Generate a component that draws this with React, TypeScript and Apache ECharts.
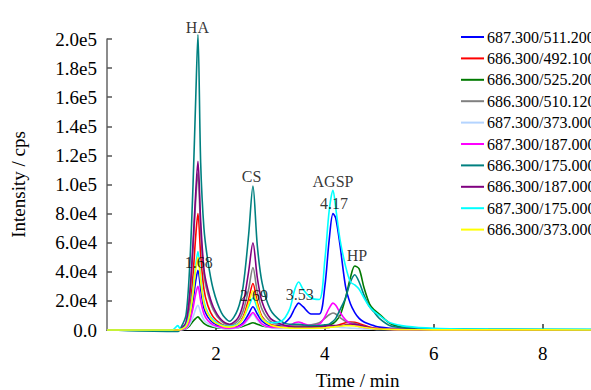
import React, { useEffect, useRef } from "react";
import * as echarts from "echarts";

// retention time grid (min)
const times = [0, 1.2, 1.3, 1.35, 1.45, 1.52, 1.58, 1.63, 1.67, 1.72, 1.78, 1.85, 1.95, 2.1, 2.25, 2.4, 2.5, 2.6, 2.68, 2.76, 2.85, 3.0, 3.2, 3.35, 3.45, 3.52, 3.6, 3.75, 3.9, 4.0, 4.08, 4.15, 4.2, 4.28, 4.38, 4.47, 4.55, 4.63, 4.72, 4.82, 4.9, 5.0, 5.2, 5.5, 6.0, 7.0, 9.2];

// intensities in thousands of cps
const s687_511 = [0, 0, 0, 0.2, 2, 8, 20, 34, 41, 28, 15, 9, 5, 2.5, 1.8, 2.5, 5, 11, 16, 11, 6, 3, 3.5, 8, 15, 18.5, 16, 11, 11, 30, 62, 80, 77, 58, 30, 18, 12, 8, 5.5, 4, 3, 2, 1.2, 0.6, 0.3, 0.2, 0.1];
const s686_492 = [0, 0, 0, 0.3, 3, 14, 38, 65, 80, 52, 28, 17, 9, 4, 2.5, 4, 9, 21, 32, 19, 9, 4, 2, 1.5, 1.2, 1.2, 1.2, 1.2, 1.3, 1.5, 1.8, 2.2, 2.8, 3.8, 5, 5.5, 5.3, 4.5, 3.2, 2, 1.4, 1, 0.6, 0.4, 0.3, 0.2, 0.2];
const s686_525 = [0, 0, 0, 0.1, 0.8, 3, 6, 8, 9, 7, 4.5, 3, 2, 1.2, 1, 1.5, 2.5, 4, 5, 4, 2.8, 2, 1.8, 1.8, 2, 2, 2, 2.2, 2.5, 3, 3.5, 4.5, 6, 10, 22, 36, 44, 42, 29, 18, 14, 11, 4.5, 1.5, 0.6, 0.3, 0.2];
const s686_510 = [0, 0, 0, 0.5, 5, 24, 56, 90, 108, 68, 38, 25, 14, 6, 3.5, 6, 13, 28, 43, 26, 14, 6, 3.5, 3, 3, 3, 3, 3.5, 5, 8, 10.5, 11.7, 11, 8.5, 6, 5, 4.5, 3.5, 2.5, 1.5, 1, 0.8, 0.5, 0.3, 0.2, 0.1, 0.1];
const s687_373 = [0, 0, 0, 0.1, 1, 4, 9, 14.5, 17, 12, 7, 4.5, 2.5, 1.3, 1, 1.6, 3.5, 7.5, 11, 7, 3.5, 1.6, 1, 1, 1, 1, 1, 1, 1.2, 1.5, 1.8, 2, 2, 1.8, 1.5, 1.3, 1.2, 1, 0.8, 0.6, 0.5, 0.4, 0.3, 0.2, 0.1, 0.1, 0];
const s687_187 = [0, 0, 0, 0.2, 1.5, 6, 15, 25, 30, 20, 11, 6.5, 3.5, 1.8, 1.2, 2, 4, 8.5, 12, 8, 4, 2, 1.8, 3, 5, 5.5, 4.5, 3, 4, 9, 15, 18.5, 17, 12, 7, 4.5, 3.5, 2.5, 1.8, 1.2, 1, 0.7, 0.4, 0.2, 0.1, 0.1, 0];
const s686_175 = [0, -1, -1, 1, 10, 45, 100, 160, 203, 115, 70, 48, 28, 12, 6, 14, 30, 65, 99, 58, 32, 14, 6, 4, 4, 4, 3.5, 3, 3, 3.5, 4, 6, 8, 14, 22, 33, 38, 33, 24, 16, 12.5, 8, 3, 1.5, 0.8, 0.5, 0.3];
const s686_187 = [0, 0, 0, 0.5, 5, 25, 60, 95, 116, 75, 42, 28, 16, 7, 4, 8, 18, 40, 60, 36, 19, 8, 4, 2.5, 2, 2, 2, 2, 2, 2.5, 3, 3, 3, 3, 3.5, 4, 4, 3.5, 2.5, 1.5, 1, 0.8, 0.5, 0.3, 0.2, 0.1, 0.1];
const s687_175 = [0, 0, 3, 0.5, 3, 12, 28, 45, 54, 36, 20, 12, 7, 3.5, 2.5, 4, 8, 16, 22, 15, 8, 5, 6, 14, 28, 33, 28, 22, 21, 48, 82, 96, 84, 62, 44, 33, 31, 28, 22, 16, 13, 10, 5, 2.5, 1.2, 0.6, 0.4];
const s686_373 = [0, 0, 0, 0.3, 2.5, 10, 25, 42, 50, 34, 18, 11, 6, 3, 2, 3.5, 8, 18, 27, 17, 8, 3.5, 1.8, 1.3, 1.2, 1.2, 1.2, 1.2, 1.3, 1.5, 1.8, 2, 2.3, 2.6, 3, 3, 2.8, 2.3, 1.7, 1.2, 0.9, 0.7, 0.4, 0.2, 0.1, 0.1, 0];

const seriesNames = [
  "687.300/511.200",
  "686.300/492.100",
  "686.300/525.200",
  "686.300/510.120",
  "687.300/373.000",
  "687.300/187.000",
  "686.300/175.000",
  "686.300/187.000",
  "687.300/175.000",
  "686.300/373.000",
];
const seriesValues = [s687_511, s686_492, s686_525, s686_510, s687_373, s687_187, s686_175, s686_187, s687_175, s686_373];
const seriesColors = ["#0000ff", "#ff0000", "#007a00", "#808080", "#b4d4ff", "#ff00ff", "#008080", "#800080", "#00ffff", "#ffff00"];

// peak annotations: [text, time (min), intensity (thousands)]
const annotations: [string, number, number][] = [
  ["HA", 1.66, 207.8],
  ["CS", 2.655, 105.2],
  ["1.68", 1.686, 46.7],
  ["2.69", 2.7, 23.4],
  ["3.53", 3.54, 24.7],
  ["4.17", 4.17, 86.6],
  ["AGSP", 4.15, 102.4],
  ["HP", 4.59, 50.9],
];

const FONT = "Liberation Serif";

export default function App() {
  const ref = useRef<HTMLDivElement>(null);
  useEffect(() => {
    if (!ref.current) return;
    const chart = echarts.init(ref.current, undefined, { renderer: "svg" });
    const lineSeries = seriesNames.map((name, i) => ({
      name,
      type: "line",
      data: times.map((t, j) => [t, seriesValues[i][j] * 1000]),
      showSymbol: false,
      smooth: 0.3,
      clip: false,
      lineStyle: { color: seriesColors[i], width: 1.6 },
      itemStyle: { color: seriesColors[i] },
      z: 2,
    }));
    chart.setOption({
      animation: false,
      backgroundColor: "#ffffff",
      textStyle: { fontFamily: FONT },
      grid: { left: 107, right: -17, top: 39, bottom: 60, containLabel: false, outerBoundsMode: "none" },
      legend: {
        orient: "vertical",
        left: 456,
        top: 24,
        itemWidth: 23,
        itemHeight: 2,
        itemGap: 5.4,
        icon: "rect",
        textStyle: { fontFamily: FONT, fontSize: 16, color: "#000", lineHeight: 16, padding: [0, 0, 0, -2] },
        data: seriesNames,
      },
      xAxis: {
        type: "value",
        min: 0,
        max: 9.2,
        interval: 2,
        name: "Time / min",
        nameLocation: "middle",
        nameGap: 41,
        nameTextStyle: { fontFamily: FONT, fontSize: 19, color: "#000" },
        axisLine: { lineStyle: { color: "#000", width: 1 } },
        axisTick: { inside: true, length: 6, lineStyle: { color: "#333", width: 1.5 } },
        axisLabel: { fontFamily: FONT, fontSize: 19, color: "#000", margin: 14, showMinLabel: false, showMaxLabel: false },
        splitLine: { show: false },
      },
      yAxis: {
        type: "value",
        min: 0,
        max: 200000,
        interval: 20000,
        name: "Intensity / cps",
        nameLocation: "middle",
        nameGap: 79,
        nameTextStyle: { fontFamily: FONT, fontSize: 19, color: "#000" },
        axisLine: { show: true, lineStyle: { color: "#666", width: 1.5 } },
        axisTick: { show: true, inside: true, length: 5, lineStyle: { color: "#555", width: 1.5 } },
        axisLabel: {
          fontFamily: FONT,
          fontSize: 19,
          color: "#000",
          margin: 10,
          formatter: (v: number) => (v === 0 ? "0.0" : v.toExponential(1).replace("e+", "e")),
        },
        splitLine: { show: false },
      },
      series: [
        ...lineSeries,
        {
          name: "annotations",
          type: "scatter",
          symbolSize: 1,
          itemStyle: { color: "rgba(0,0,0,0)" },
          clip: false,
          z: 10,
          data: annotations.map(([text, t, v]) => ({ value: [t, v * 1000], name: text })),
          label: {
            show: true,
            position: "inside",
            formatter: (p: any) => p.name,
            fontFamily: FONT,
            fontSize: 16,
            color: "#000",
          },
          tooltip: { show: false },
        },
      ],
    });
    return () => chart.dispose();
  }, []);
  return <div ref={ref} style={{ position: "absolute", left: 0, top: 0, width: 591, height: 390 }} />;
}
